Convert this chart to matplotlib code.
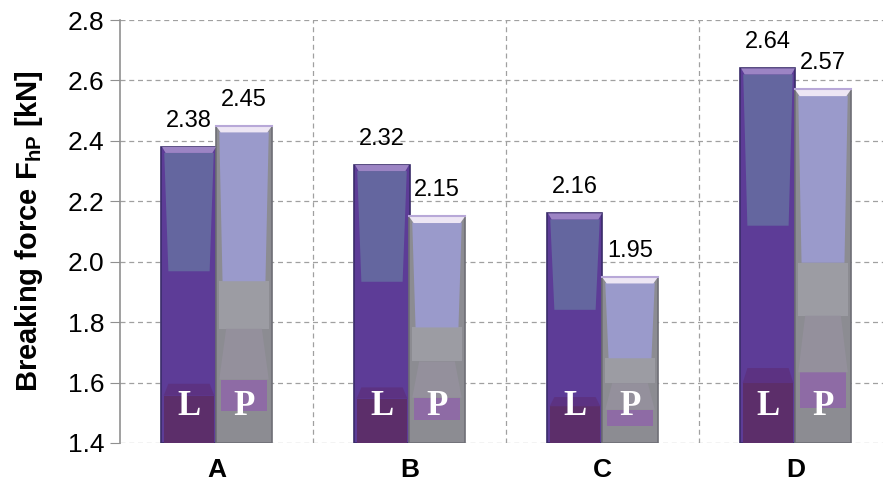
import matplotlib
matplotlib.use("Agg")
import matplotlib.pyplot as plt
import numpy as np

categories = ["A", "B", "C", "D"]
values_L = [2.38, 2.32, 2.16, 2.64]
values_P = [2.45, 2.15, 1.95, 2.57]
series_tags = ["L", "P"]
y_ticks = [1.4, 1.6, 1.8, 2.0, 2.2, 2.4, 2.6, 2.8]

plt.rcParams['font.family'] = ['Liberation Sans', 'DejaVu Sans']
plt.rcParams['mathtext.fontset'] = 'custom'
plt.rcParams['mathtext.rm'] = 'Liberation Sans:bold'
plt.rcParams['mathtext.it'] = 'Liberation Sans:bold'
plt.rcParams['mathtext.bf'] = 'Liberation Sans:bold'

fig = plt.figure(figsize=(8.83, 4.83), dpi=100)
ax = fig.add_axes([120/883, 40/483, 772/883, 423/483])

base = 1.4
w = 0.285
x = np.arange(len(categories))
xL = x - w/2
xP = x + w/2


def trap(ax, xc, y0, y1, wbot, wtop, color, z):
    xs = [xc - wbot/2, xc + wbot/2, xc + wtop/2, xc - wtop/2]
    ys = [y0, y0, y1, y1]
    ax.fill(xs, ys, color=color, lw=0, zorder=z)


# L bars
ax.bar(xL, np.array(values_L) - base, bottom=base, width=w,
       color='#5D3C97', edgecolor='#3A2C6A', linewidth=1.2, zorder=3)
for xc, v in zip(xL, values_L):
    h = v - base
    trap(ax, xc, base + 0.58*h, v - 0.02, w*0.75, w*0.9, '#64669F', 4)
    trap(ax, xc, base, base + 0.16*h, w*0.92, w*0.92, '#5C2E6A', 4)
    trap(ax, xc, base + 0.16*h, base + 0.2*h, w*0.92, w*0.75, '#5C3282', 4)
    trap(ax, xc, v - 0.02, v, w*0.85, w*0.98, '#9C84C4', 5)
    ax.text(xc, base + 0.12, series_tags[0], color='white', fontsize=25,
            fontweight='bold', family='Liberation Serif', ha='center',
            va='center', zorder=6)
    ax.text(xc, v + 0.05, f"{v:.2f}", ha='center', va='bottom',
            fontsize=17, zorder=6)

# P bars
ax.bar(xP, np.array(values_P) - base, bottom=base, width=w,
       color='#8C8C92', edgecolor='#6E6E76', linewidth=1.2, zorder=3)
for xc, v in zip(xP, values_P):
    h = v - base
    trap(ax, xc, base + 0.36*h, base + 0.51*h, w*0.92, w*0.92, '#9C9CA3', 4)
    trap(ax, xc, base + 0.51*h, v - 0.02, w*0.78, w*0.9, '#9A9ACB', 4)
    trap(ax, xc, base + 0.1*h, base + 0.2*h, w*0.85, w*0.85, '#8E6BA5', 4)
    trap(ax, xc, base + 0.2*h, base + 0.36*h, w*0.9, w*0.65, '#94909C', 4)
    trap(ax, xc, v - 0.022, v, w*0.85, w*1.02, '#EDE6F4', 5)
    ax.plot([xc - w*0.51, xc + w*0.51], [v, v], color='#B8A8D8', lw=1.5, zorder=5)
    ax.text(xc, base + 0.12, series_tags[1], color='white', fontsize=25,
            fontweight='bold', family='Liberation Serif', ha='center',
            va='center', zorder=6)
    ax.text(xc, v + 0.05, f"{v:.2f}", ha='center', va='bottom',
            fontsize=17, zorder=6)

ax.set_xlim(-0.5, len(categories) - 0.5)
ax.set_ylim(1.4, 2.8)
ax.set_yticks(y_ticks)
ax.set_yticklabels([f"{t:.1f}" for t in y_ticks], fontsize=19)
ax.set_xticks(x)
ax.set_xticklabels(categories, fontsize=19, fontweight='bold')
ax.tick_params(axis='x', length=0, pad=11)
ax.tick_params(axis='y', length=7, color='#909090', direction='out', pad=4)

for yv in y_ticks:
    ax.axhline(yv, color='#A0A0A0', lw=0.9, ls=(0, (4, 3)), zorder=1)
for xb in np.arange(0.5, len(categories) - 0.5, 1.0):
    ax.axvline(xb, color='#A0A0A0', lw=0.9, ls=(0, (4, 3)), zorder=1)

for s in ['top', 'right', 'bottom']:
    ax.spines[s].set_visible(False)
ax.spines['left'].set_color('#909090')
ax.spines['left'].set_linewidth(1.2)

ax.set_ylabel(r"Breaking force F$_{\mathrm{hP}}$ [kN]", fontsize=21,
              fontweight='bold')
ax.yaxis.set_label_coords(-0.097, 0.5)

fig.savefig("out.png", dpi=100)
